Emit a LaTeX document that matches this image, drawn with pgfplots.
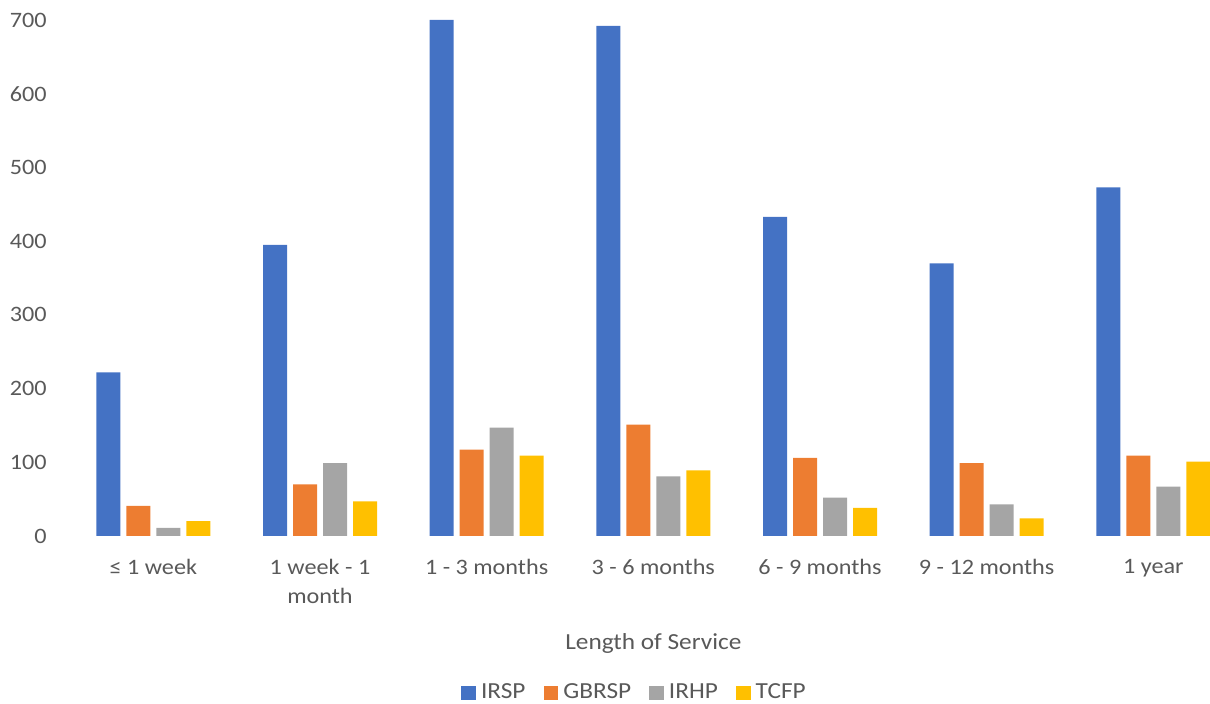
\documentclass[border=0pt]{standalone}
\usepackage{fontspec}
\setmainfont{Carlito}[FakeStretch=1.1]
\usepackage{pgfplots}
\pgfplotsset{compat=1.18}
\definecolor{txt}{HTML}{595959}
\definecolor{cIRSP}{HTML}{4472C4}
\definecolor{cGBRSP}{HTML}{ED7D31}
\definecolor{cIRHP}{HTML}{A5A5A5}
\definecolor{cTCFP}{HTML}{FFC000}

% Length of service categories: 0 = <= 1 week ... 6 = 1 year
\pgfplotstableread{
x IRSP GBRSP IRHP TCFP
0 222 41 11 20
1 395 70 99 47
2 700 117 147 109
3 692 151 81 89
4 433 106 52 38
5 370 99 43 24
6 473 109 67 101
}\servicedata

\begin{document}
\fontsize{11}{14.5}\selectfont
\begin{tikzpicture}
\begin{axis}[
  scale only axis,
  width=570pt, height=258pt,
  xmin=-0.5, xmax=6.34,
  ymin=0, ymax=700,
  ybar=3pt, bar width=12pt,
  axis line style={draw=none},
  major tick length=0pt,
  ytick={0,100,...,700},
  xtick=data,
  xticklabels={{≤ 1 week},{1 week - 1\\month},{1 - 3 months},{3 - 6 months},{6 - 9 months},{9 - 12 months},{1 year}},
  xticklabel style={align=center, text=txt, inner sep=0pt, yshift=-11.5pt, font=\fontsize{11}{14.5}\selectfont},
  yticklabel style={text=txt, inner sep=0pt, xshift=-11.5pt, font=\fontsize{11}{14.5}\selectfont},
  /pgf/number format/assume math mode=true,
  legend style={draw=none, at={(0.4965,0)}, anchor=center, yshift=-78.5pt,
    legend columns=4, font=\fontsize{11.5}{14.5}\selectfont, text=txt,
    nodes={inner xsep=2.5pt},
    /tikz/every even column/.append style={column sep=6.5pt}},
  legend image code/.code={\fill[#1] (0pt,-3.7pt) rectangle (7.4pt,3.7pt);},
  clip=false,
]
\addplot[fill=cIRSP, draw=none] table[x=x, y=IRSP] {\servicedata};
\addplot[fill=cGBRSP, draw=none] table[x=x, y=GBRSP] {\servicedata};
\addplot[fill=cIRHP, draw=none] table[x=x, y=IRHP] {\servicedata};
\addplot[fill=cTCFP, draw=none] table[x=x, y=TCFP] {\servicedata};
\legend{IRSP, GBRSP, IRHP, TCFP}
\node[text=txt, font=\fontsize{11.5}{14}\selectfont] at (rel axis cs:0.5117,0) [yshift=-53.5pt] {Length of Service};
\coordinate (bl) at (rel axis cs:0,0);
\coordinate (tr) at (rel axis cs:1,1);
\end{axis}
\pgfresetboundingbox
\path[use as bounding box] ([shift={(-35pt,-84pt)}]bl) rectangle ([yshift=10pt]tr);
\end{tikzpicture}
\end{document}
